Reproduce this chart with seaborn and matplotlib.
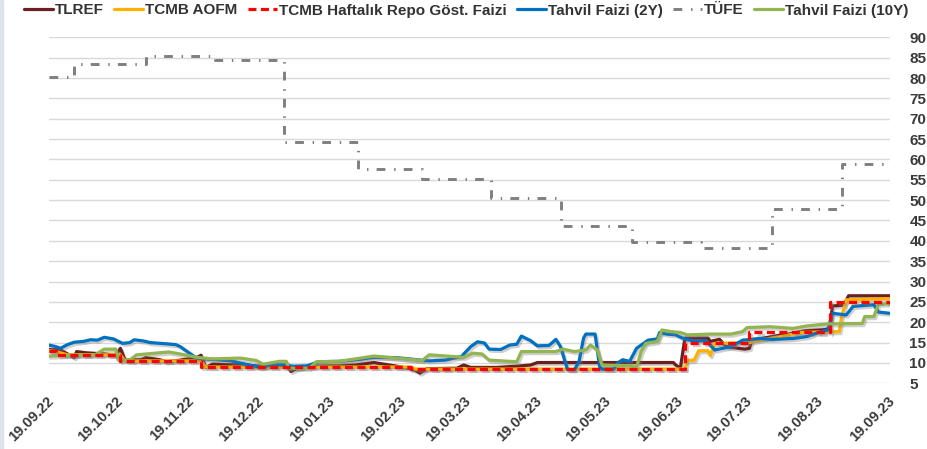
import matplotlib
matplotlib.use("Agg")
import matplotlib.pyplot as plt
import matplotlib.dates as mdates
import matplotlib.patheffects as pe
import matplotlib.transforms as mtransforms
from matplotlib.lines import Line2D
from matplotlib.patches import Rectangle
import pandas as pd
import seaborn as sns

sns.set_theme(style="white")
plt.rcParams["font.family"] = ["Liberation Sans", "DejaVu Sans"]

# ---------------- data ----------------
tlref_dates = ["2022-09-19", "2022-09-24", "2022-09-28", "2022-09-30", "2022-10-01", "2022-10-05",
               "2022-10-13", "2022-10-18", "2022-10-20", "2022-10-22", "2022-10-29", "2022-10-31",
               "2022-11-06", "2022-11-09", "2022-11-15", "2022-11-22", "2022-11-24", "2022-11-26",
               "2022-11-29", "2022-12-11", "2022-12-20", "2022-12-25", "2022-12-31", "2023-01-02",
               "2023-01-04", "2023-01-09", "2023-01-23", "2023-01-30", "2023-02-07", "2023-02-17",
               "2023-02-24", "2023-02-27", "2023-03-02", "2023-03-15", "2023-03-18", "2023-03-21",
               "2023-04-01", "2023-04-10", "2023-04-16", "2023-04-19", "2023-06-17", "2023-06-18",
               "2023-06-20", "2023-06-22", "2023-07-02", "2023-07-03", "2023-07-07", "2023-07-10",
               "2023-07-18", "2023-07-20", "2023-07-21", "2023-07-25", "2023-08-01", "2023-08-06",
               "2023-08-13", "2023-08-22", "2023-08-24", "2023-08-25", "2023-08-30", "2023-09-01",
               "2023-09-19"]
tlref_values = [13.3, 13.2, 11.9, 11.3, 12.8, 12.5,
                12.2, 11.9, 13.6, 10.7, 10.8, 11.3,
                10.8, 10.3, 10.7, 11.3, 11.9, 8.9,
                9.7, 9.5, 9.2, 9.2, 9.5, 7.9,
                8.5, 9.2, 9.3, 9.5, 10.1, 9.2,
                8.5, 7.5, 8.6, 8.7, 9.5, 8.9,
                8.9, 9.2, 9.5, 10.1, 10.1, 9.5,
                8.7, 16.1, 16.1, 15.3, 15.8, 14.0,
                13.4, 13.6, 15.7, 16.0, 16.7, 17.1,
                17.9, 18.2, 18.7, 24.0, 24.2, 26.5,
                26.5]

aofm_dates = ["2022-09-19", "2022-09-22", "2022-09-27", "2022-10-20", "2022-10-22", "2022-11-24",
              "2022-11-26", "2023-02-23", "2023-02-25", "2023-06-22", "2023-06-23", "2023-06-26",
              "2023-06-28", "2023-07-02", "2023-07-03", "2023-07-05", "2023-07-20", "2023-07-24",
              "2023-08-03", "2023-08-11", "2023-08-28", "2023-08-29", "2023-08-31", "2023-09-19"]
aofm_values = [13.0, 12.8, 12.0, 12.0, 10.5, 10.5,
               9.0, 9.0, 8.5, 8.5, 10.6, 10.7,
               13.0, 13.0, 11.8, 14.8, 15.0, 15.6,
               16.5, 17.5, 17.7, 21.4, 25.5, 25.8]

repo_dates = ["2022-09-19", "2022-09-22", "2022-10-20", "2022-11-24", "2023-02-23",
              "2023-06-22", "2023-07-20", "2023-08-24", "2023-09-19"]
repo_values = [13.0, 12.0, 10.5, 9.0, 8.5, 15.0, 17.5, 25.0, 25.0]

y2_dates = ["2022-09-19", "2022-09-22", "2022-09-24", "2022-09-27", "2022-09-30", "2022-10-04",
            "2022-10-07", "2022-10-10", "2022-10-13", "2022-10-17", "2022-10-21", "2022-10-24",
            "2022-10-26", "2022-10-30", "2022-11-02", "2022-11-09", "2022-11-13", "2022-11-15",
            "2022-11-19", "2022-11-22", "2022-11-26", "2022-12-01", "2022-12-07", "2022-12-11",
            "2022-12-16", "2022-12-20", "2022-12-25", "2022-12-30", "2023-01-03", "2023-01-09",
            "2023-01-14", "2023-01-23", "2023-02-01", "2023-02-07", "2023-02-17", "2023-02-24",
            "2023-03-03", "2023-03-10", "2023-03-17", "2023-03-21", "2023-03-24", "2023-03-27",
            "2023-03-29", "2023-04-03", "2023-04-07", "2023-04-10", "2023-04-12", "2023-04-16",
            "2023-04-19", "2023-04-24", "2023-04-27", "2023-04-29", "2023-05-02", "2023-05-05",
            "2023-05-07", "2023-05-09", "2023-05-10", "2023-05-14", "2023-05-16", "2023-05-17",
            "2023-05-22", "2023-05-24", "2023-05-26", "2023-05-29", "2023-06-01", "2023-06-04",
            "2023-06-06", "2023-06-10", "2023-06-11", "2023-06-14", "2023-06-18", "2023-06-21",
            "2023-06-26", "2023-07-01", "2023-07-05", "2023-07-12", "2023-07-17", "2023-07-25",
            "2023-07-30", "2023-08-08", "2023-08-14", "2023-08-20", "2023-08-23", "2023-08-25",
            "2023-08-31", "2023-09-03", "2023-09-12", "2023-09-14", "2023-09-19"]
y2_values = [14.4, 14.0, 13.6, 14.5, 15.1, 15.3,
             15.7, 15.6, 16.3, 15.9, 14.8, 15.0,
             15.7, 15.4, 15.0, 14.7, 14.5, 14.0,
             12.4, 11.2, 11.0, 10.8, 10.5, 10.0,
             9.4, 8.9, 9.6, 9.5, 9.2, 9.3,
             10.3, 10.4, 10.9, 11.4, 11.3, 10.9,
             10.5, 10.7, 11.6, 14.0, 15.2, 14.9,
             13.4, 13.3, 14.4, 14.6, 16.6, 15.5,
             14.2, 14.3, 15.8, 14.0, 8.4, 8.3,
             10.3, 16.1, 17.1, 17.1, 9.0, 8.5,
             8.5, 10.1, 10.8, 10.4, 13.6, 14.8,
             15.6, 15.9, 17.5, 17.1, 16.9, 16.1,
             15.3, 15.5, 13.2, 14.0, 15.6, 16.0,
             15.8, 16.0, 16.5, 17.7, 18.1, 22.2,
             21.8, 23.9, 24.3, 22.5, 22.2]

tufe_dates = ["2022-09-19", "2022-09-30", "2022-10-31", "2022-11-30", "2022-12-30", "2023-01-31",
              "2023-02-28", "2023-03-30", "2023-04-29", "2023-05-30", "2023-06-29", "2023-07-30",
              "2023-08-29", "2023-09-19"]
tufe_values = [80.21, 83.45, 85.51, 84.39, 64.27, 57.68,
               55.18, 50.51, 43.68, 39.59, 38.21, 47.83,
               58.94, 58.94]

y10_dates = ["2022-09-19", "2022-09-29", "2022-10-09", "2022-10-13", "2022-10-18", "2022-10-19",
             "2022-10-24", "2022-10-27", "2022-11-06", "2022-11-10", "2022-11-15", "2022-11-22",
             "2022-11-29", "2022-12-11", "2022-12-18", "2022-12-21", "2022-12-28", "2022-12-31",
             "2023-01-01", "2023-01-10", "2023-01-13", "2023-01-23", "2023-02-07", "2023-02-15",
             "2023-02-28", "2023-03-03", "2023-03-18", "2023-03-22", "2023-03-26", "2023-03-29",
             "2023-04-10", "2023-04-12", "2023-04-27", "2023-04-30", "2023-05-05", "2023-05-10",
             "2023-05-12", "2023-05-15", "2023-05-17", "2023-05-29", "2023-06-01", "2023-06-03",
             "2023-06-05", "2023-06-10", "2023-06-12", "2023-06-16", "2023-06-20", "2023-06-23",
             "2023-07-03", "2023-07-12", "2023-07-17", "2023-07-19", "2023-07-29", "2023-08-08",
             "2023-08-14", "2023-08-23", "2023-09-07", "2023-09-08", "2023-09-12", "2023-09-14",
             "2023-09-19"]
y10_values = [11.7, 11.9, 12.0, 13.4, 13.4, 10.7,
              10.7, 12.0, 12.5, 12.7, 12.2, 11.4,
              11.0, 11.2, 10.6, 9.7, 10.4, 10.4,
              8.7, 8.7, 10.3, 10.4, 11.7, 11.3,
              10.6, 12.0, 11.4, 12.4, 12.2, 10.7,
              10.3, 12.8, 12.8, 13.4, 12.8, 13.2,
              14.4, 13.2, 9.5, 9.3, 9.0, 12.8,
              14.8, 15.3, 18.1, 17.7, 17.5, 16.9,
              17.1, 17.1, 17.7, 18.7, 18.9, 18.5,
              19.1, 19.6, 19.7, 21.4, 21.4, 24.5,
              24.5]

series_names = ["TLREF", "TCMB AOFM", "TCMB Haftalık Repo Göst. Faizi",
                "Tahvil Faizi (2Y)", "TÜFE", "Tahvil Faizi (10Y)"]
y_ticks = list(range(5, 95, 5))
x_ticks = ["2022-09-19", "2022-10-19", "2022-11-19", "2022-12-19", "2023-01-19", "2023-02-19",
           "2023-03-19", "2023-04-19", "2023-05-19", "2023-06-19", "2023-07-19", "2023-08-19",
           "2023-09-19"]

# ---------------- styling ----------------
colors = {"TLREF": "#6B2020", "TCMB AOFM": "#FFB000", "TCMB Haftalık Repo Göst. Faizi": "#FF0000",
          "Tahvil Faizi (2Y)": "#0070C0", "TÜFE": "#7F7F7F", "Tahvil Faizi (10Y)": "#92B552"}
styles = {"TLREF": dict(lw=2.3, ls="-"),
          "TCMB AOFM": dict(lw=2.3, ls="-"),
          "TCMB Haftalık Repo Göst. Faizi": dict(lw=2.3, ls=(0, (2.5, 1.4))),
          "Tahvil Faizi (2Y)": dict(lw=2.3, ls="-"),
          "TÜFE": dict(lw=2.1, ls=(0, (3.0, 3.0, 0.5, 2.8))),
          "Tahvil Faizi (10Y)": dict(lw=2.3, ls="-")}
step = {"TCMB Haftalık Repo Göst. Faizi": True, "TÜFE": True}

data = {
    "TLREF": (tlref_dates, tlref_values),
    "TCMB AOFM": (aofm_dates, aofm_values),
    "TCMB Haftalık Repo Göst. Faizi": (repo_dates, repo_values),
    "Tahvil Faizi (2Y)": (y2_dates, y2_values),
    "TÜFE": (tufe_dates, tufe_values),
    "Tahvil Faizi (10Y)": (y10_dates, y10_values),
}

fig = plt.figure(figsize=(9.27, 4.49), dpi=100)
ax = fig.add_axes([49 / 927, (449 - 383.3) / 449, 841 / 927, 346 / 449])

shadow = [pe.SimpleLineShadow(offset=(1.2, -1.5), shadow_color="#777777", alpha=0.35), pe.Normal()]

draw_order = ["TLREF", "TCMB AOFM", "Tahvil Faizi (2Y)", "Tahvil Faizi (10Y)", "TÜFE",
              "TCMB Haftalık Repo Göst. Faizi"]
for name in draw_order:
    d, v = data[name]
    df = pd.DataFrame({"date": pd.to_datetime(d), "value": v})
    kw = dict(drawstyle="steps-post") if step.get(name) else {}
    sns.lineplot(data=df, x="date", y="value", ax=ax, color=colors[name],
                 linewidth=styles[name]["lw"], linestyle=styles[name]["ls"],
                 estimator=None, sort=False,
                 path_effects=shadow if name != "TÜFE" else None, **kw)

ax.set_xlim(pd.Timestamp("2022-09-19"), pd.Timestamp("2023-09-19"))
ax.set_ylim(5, 90)
ax.set_yticks(y_ticks)
ax.yaxis.tick_right()
ax.set_xticks(pd.to_datetime(x_ticks))
ax.xaxis.set_major_formatter(mdates.DateFormatter("%d.%m.%y"))
ax.set_xlabel("")
ax.set_ylabel("")
ax.grid(axis="y", color="#D9D9D9", lw=1)
ax.grid(axis="x", visible=False)
ax.set_axisbelow(True)
for s in ax.spines.values():
    s.set_visible(False)
ax.tick_params(axis="y", length=0, pad=14, labelsize=11, labelcolor="#3A3A3A")
ax.tick_params(axis="x", length=0, pad=11, labelsize=10.5, labelcolor="#3A3A3A")
for lab in ax.get_yticklabels():
    lab.set_fontweight("bold")
shift = mtransforms.ScaledTranslation(2.5 / 100, 0, fig.dpi_scale_trans)
for lab in ax.get_xticklabels():
    lab.set_fontweight("bold")
    lab.set_rotation(45)
    lab.set_ha("right")
    lab.set_va("center")
    lab.set_rotation_mode("anchor")
    lab.set_transform(lab.get_transform() + shift)

handles = [Line2D([], [], color=colors[n], lw=styles[n]["lw"], ls=styles[n]["ls"]) for n in series_names]
fig.legend(handles, series_names, loc="upper left", bbox_to_anchor=(24 / 927, 1 - 3.5 / 449),
           ncol=6, frameon=False, handlelength=1.9, handletextpad=0.15, columnspacing=0.65,
           borderpad=0, borderaxespad=0,
           prop=dict(weight="bold", size=11), labelcolor="#333333")

fig.patches.append(Rectangle((0, 0), 3 / 927, 1, transform=fig.transFigure,
                             color="#DCE3EA", zorder=-1))

fig.savefig("out.png", dpi=100)
